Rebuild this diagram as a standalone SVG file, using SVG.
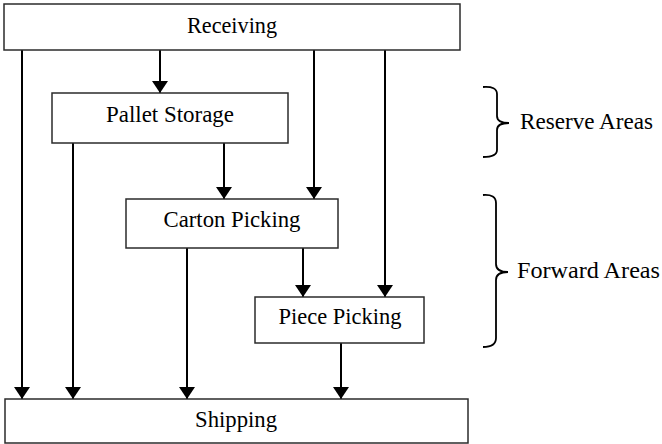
<svg xmlns="http://www.w3.org/2000/svg" width="662" height="444" viewBox="0 0 662 444">
  <style>
    .box { fill: #ffffff; stroke: #2b2b2b; stroke-width: 1.5; }
    .lbl { font-family: "Liberation Serif", "Times New Roman", serif; font-size: 23px; fill: #000; text-anchor: middle; }
    .side { font-family: "Liberation Serif", "Times New Roman", serif; font-size: 23px; fill: #000; }
    .flow { stroke: #000; stroke-width: 2; fill: none; marker-end: url(#head); }
    .brace { stroke: #000; stroke-width: 1.8; fill: none; }
  </style>
  <defs>
    <marker id="head" markerUnits="userSpaceOnUse" viewBox="0 0 12 16" refX="12" refY="8" markerWidth="12" markerHeight="16" orient="auto">
      <path d="M0,0 L12,8 L0,16 z" fill="#000"/>
    </marker>
  </defs>

  <!-- connectors -->
  <g id="connectors">
    <line class="flow" x1="22" y1="50" x2="22" y2="399"/>
    <line class="flow" x1="160" y1="50" x2="160" y2="93"/>
    <line class="flow" x1="314" y1="50" x2="314" y2="199"/>
    <line class="flow" x1="385" y1="50" x2="385" y2="297"/>
    <line class="flow" x1="73" y1="143" x2="73" y2="399"/>
    <line class="flow" x1="224" y1="143" x2="224" y2="199"/>
    <line class="flow" x1="187" y1="248" x2="187" y2="399"/>
    <line class="flow" x1="303" y1="248" x2="303" y2="297"/>
    <line class="flow" x1="341" y1="343" x2="341" y2="399"/>
  </g>

  <g id="receiving">
    <rect class="box" x="4" y="4" width="456" height="46"/>
    <text class="lbl" x="232" y="33" textLength="90" lengthAdjust="spacingAndGlyphs">Receiving</text>
  </g>

  <g id="pallet-storage">
    <rect class="box" x="52" y="93" width="236" height="50"/>
    <text class="lbl" x="170" y="122" textLength="128" lengthAdjust="spacingAndGlyphs">Pallet Storage</text>
  </g>

  <g id="carton-picking">
    <rect class="box" x="126" y="199" width="212" height="49"/>
    <text class="lbl" x="232" y="227" textLength="137" lengthAdjust="spacingAndGlyphs">Carton Picking</text>
  </g>

  <g id="piece-picking">
    <rect class="box" x="255" y="297" width="169" height="46"/>
    <text class="lbl" x="340" y="324" textLength="123" lengthAdjust="spacingAndGlyphs">Piece Picking</text>
  </g>

  <g id="shipping">
    <rect class="box" x="5" y="399" width="463" height="44"/>
    <text class="lbl" x="236" y="427" textLength="82" lengthAdjust="spacingAndGlyphs">Shipping</text>
  </g>

  <!-- area brackets -->
  <g id="reserve-areas">
    <path class="brace" d="M483,87 Q497,86 497,94 L497,116 Q497,123 509,123 Q497,123 497,130 L497,150 Q497,157 483,157"/>
    <text class="side" x="520" y="129" textLength="133" lengthAdjust="spacingAndGlyphs">Reserve Areas</text>
  </g>

  <g id="forward-areas">
    <path class="brace" d="M483,195 Q496,194 496,203 L496,264 Q496,272 508,272 Q496,272 496,280 L496,338 Q496,347 483,347"/>
    <text class="side" x="517" y="278" textLength="143" lengthAdjust="spacingAndGlyphs">Forward Areas</text>
  </g>
</svg>
